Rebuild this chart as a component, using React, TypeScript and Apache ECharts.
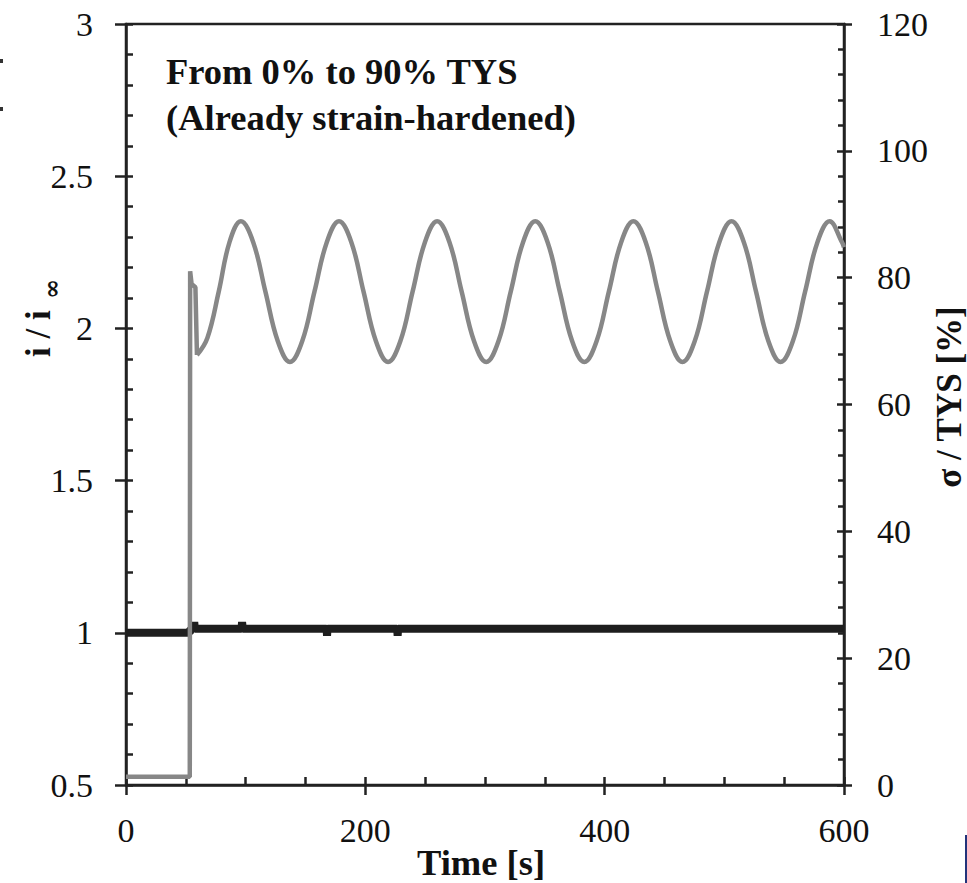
import React, { useEffect, useRef } from "react";
import * as echarts from "echarts";

// i / i∞ (left axis) — [time s, value]
const currentData: [number, number][] = [
  [0, 1.0], [53.4, 1.0], [53.7, 1.013], [56.5, 1.013], [57.0, 1.035], [57.6, 1.013],
  [96.5, 1.013], [97.0, 1.035], [97.6, 1.013], [167.6, 1.013], [168.0, 0.99], [168.4, 1.013],
  [226.6, 1.013], [227.0, 0.99], [227.4, 1.013], [600, 1.013],
];

// σ / TYS (right axis): loading step
const stressRamp: [number, number][] = [
  [0, 1.3], [53.3, 1.3], [53.6, 81.0], [54.8, 79.0], [58.0, 78.5], [59.3, 67.8],
];

// σ / TYS (right axis): cyclic part
const stressCycle: [number, number][] = [
  [59.3, 67.8], [68.0, 70.5], [77.5, 77.8], [86.5, 85.6], [96.0, 88.9],
  [106.3, 85.6], [116.5, 77.8], [126.8, 70.0], [137.0, 66.7],
  [147.3, 70.0], [157.5, 77.8], [167.8, 85.6], [178.0, 88.9],
  [188.3, 85.6], [198.5, 77.8], [208.8, 70.0], [219.0, 66.7],
  [229.3, 70.0], [239.5, 77.8], [249.8, 85.6], [260.0, 88.9],
  [270.3, 85.6], [280.5, 77.8], [290.8, 70.0], [301.0, 66.7],
  [311.3, 70.0], [321.5, 77.8], [331.8, 85.6], [342.0, 88.9],
  [352.3, 85.6], [362.5, 77.8], [372.8, 70.0], [383.0, 66.7],
  [393.3, 70.0], [403.5, 77.8], [413.8, 85.6], [424.0, 88.9],
  [434.3, 85.6], [444.5, 77.8], [454.8, 70.0], [465.0, 66.7],
  [475.3, 70.0], [485.5, 77.8], [495.8, 85.6], [506.0, 88.9],
  [516.3, 85.6], [526.5, 77.8], [536.8, 70.0], [547.0, 66.7],
  [557.3, 70.0], [567.5, 77.8], [577.8, 85.6], [588.0, 88.9],
  [598.3, 85.6], [600.0, 84.8],
];

const titleLines = ["From 0% to 90% TYS", "(Already strain-hardened)"];
const xName = "Time [s]";
const rightName = "σ / TYS [%]";

const AX = "#222";
const SERIF = '"Liberation Serif", "Times New Roman", serif';

export default function App() {
  const ref = useRef<HTMLDivElement>(null);
  useEffect(() => {
    if (!ref.current) return;
    const chart = echarts.init(ref.current, undefined, { renderer: "svg" });
    const lineStyle = { color: AX, width: 2.5 };
    const label = { fontSize: 34, fontFamily: SERIF, color: "#111" };
    const xBase = { type: "value", min: 0, max: 600, interval: 200, position: "bottom", splitLine: { show: false } };
    const yLBase = { type: "value", min: 0.5, max: 3, interval: 0.5, position: "left", splitLine: { show: false } };
    const yRBase = { type: "value", min: 0, max: 120, interval: 20, position: "right", splitLine: { show: false } };
    chart.setOption({
      animation: false,
      backgroundColor: "#fff",
      grid: { left: 126, right: 123, top: 24, bottom: 98, show: true, borderColor: AX, borderWidth: 2.5, containLabel: false },
      xAxis: [
        { ...xBase, axisLine: { show: true, onZero: false, lineStyle }, axisTick: { show: true, inside: false, length: 10, lineStyle },
          minorTick: { show: false }, axisLabel: { ...label, margin: 28 } },
        { ...xBase, axisLine: { show: false, onZero: false }, axisTick: { show: true, inside: true, length: 8, lineStyle },
          minorTick: { show: true, splitNumber: 4, length: 8, lineStyle }, axisLabel: { show: false } },
      ],
      yAxis: [
        { ...yLBase, axisLine: { show: true, onZero: false, lineStyle }, axisTick: { show: true, inside: false, length: 11, lineStyle },
          minorTick: { show: false }, axisLabel: { ...label, margin: 33 } },
        { ...yRBase, axisLine: { show: true, onZero: false, lineStyle }, axisTick: { show: true, inside: false, length: 8, lineStyle },
          minorTick: { show: false }, axisLabel: { ...label, margin: 33 } },
        { ...yLBase, axisLine: { show: false, onZero: false }, axisTick: { show: true, inside: true, length: 7, lineStyle },
          minorTick: { show: true, splitNumber: 5, length: 7, lineStyle }, axisLabel: { show: false } },
        { ...yRBase, axisLine: { show: false, onZero: false }, axisTick: { show: true, inside: true, length: 7, lineStyle },
          minorTick: { show: true, splitNumber: 5, length: 6, lineStyle }, axisLabel: { show: false } },
      ],
      series: [
        { type: "line", xAxisIndex: 0, yAxisIndex: 0, data: currentData, symbol: "none",
          lineStyle: { color: "#1e1e1e", width: 8, join: "bevel" }, z: 2 },
        { type: "line", xAxisIndex: 0, yAxisIndex: 1, data: stressRamp, symbol: "none",
          lineStyle: { color: "#878787", width: 4.5 }, z: 3 },
        { type: "line", xAxisIndex: 0, yAxisIndex: 1, data: stressCycle, symbol: "none", smooth: 0.4,
          lineStyle: { color: "#878787", width: 4.5 }, z: 3 },
      ],
      graphic: [
        { type: "text", left: 166, top: 53, style: { text: titleLines[0], font: `bold 36.5px ${SERIF}`, fill: "#111" } },
        { type: "text", left: 166, top: 99, style: { text: titleLines[1], font: `bold 36.5px ${SERIF}`, fill: "#111" } },
        { type: "text", x: 481, y: 862, style: { text: xName, font: `bold 36.5px ${SERIF}`, fill: "#111", align: "center", verticalAlign: "middle" } },
        { type: "text", x: 949, y: 397, rotation: Math.PI / 2, style: { text: rightName, font: `bold 35px ${SERIF}`, fill: "#111", align: "center", verticalAlign: "middle" } },
        { type: "text", x: 38, y: 357, rotation: Math.PI / 2, style: { text: "i / i", font: `bold 35px ${SERIF}`, fill: "#111", align: "left", verticalAlign: "middle" } },
        { type: "text", x: 51, y: 299, rotation: Math.PI / 2, style: { text: "∞", font: `bold 24px "DejaVu Serif", serif`, fill: "#111", align: "left", verticalAlign: "middle" } },
        { type: "rect", shape: { x: 0, y: 59, width: 3, height: 4 }, style: { fill: "#333" } },
        { type: "rect", shape: { x: 0, y: 107, width: 3, height: 4 }, style: { fill: "#333" } },
        { type: "rect", shape: { x: 965, y: 835, width: 2, height: 48 }, style: { fill: "#22337a" } },
      ],
    });
    return () => chart.dispose();
  }, []);
  return <div ref={ref} style={{ position: "fixed", left: 0, top: 0, width: 967, height: 883 }} />;
}
